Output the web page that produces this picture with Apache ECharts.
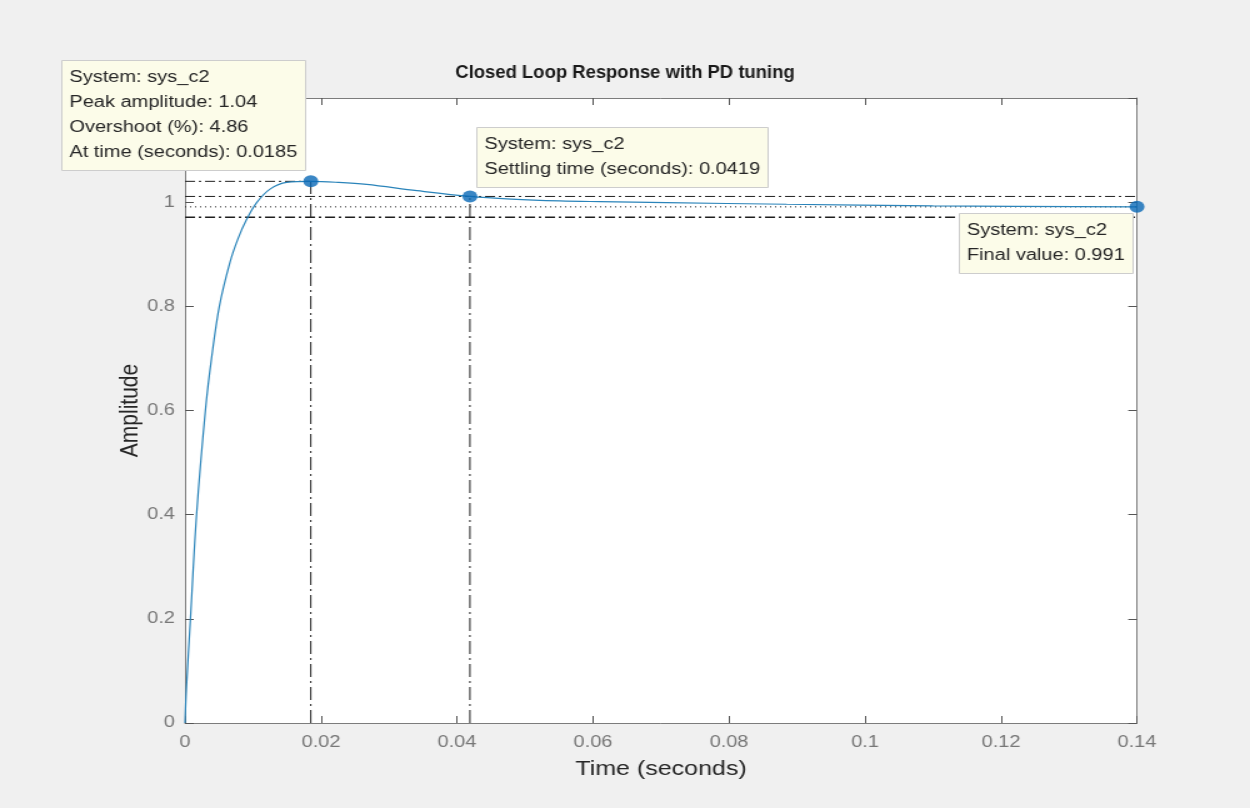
<!DOCTYPE html>
<html>
<head>
<meta charset="utf-8">
<title>Closed Loop Response with PD tuning</title>
<script src="https://cdn.jsdelivr.net/npm/echarts@6/dist/echarts.min.js"></script>
<style>
  html, body { margin: 0; padding: 0; background: #f0f0f0; overflow: hidden; }
  /* the figure is laid out 1000px wide and stretched to fill the 1250px window */
  #chart { width: 1000px; height: 808px; transform: scaleX(1.25); transform-origin: 0 0; }
</style>
</head>
<body>
<div id="chart"></div>
<script>
// Step response samples of sys_c2 (time in seconds, amplitude)
const timeS = [0, 0.0002, 0.0008, 0.0017, 0.0030, 0.0039, 0.00505, 0.0066, 0.0078,
  0.00907, 0.01054, 0.0125, 0.01495, 0.0185, 0.0225, 0.0267, 0.0341, 0.0419,
  0.048, 0.0551, 0.061, 0.0708, 0.0885, 0.11, 0.14];
const amplitude = [0, 0.065, 0.20, 0.40, 0.60, 0.70, 0.80, 0.884, 0.93,
  0.967, 0.999, 1.025, 1.038, 1.04, 1.038, 1.034, 1.022, 1.011,
  1.006, 1.0025, 1.001, 0.999, 0.996, 0.993, 0.991];

// Step-response characteristics
const systemName = 'sys_c2';
const peakTime = 0.0185;
const peakAmplitude = 1.04;
const overshootPct = 4.86;
const settlingTime = 0.0419;
const settlingAmplitude = 1.011;
const finalTime = 0.14;
const finalValue = 0.991;
const bandUpper = 1.011;
const bandLower = 0.971;

// Axis ticks
const xTickLabels = ['0', '0.02', '0.04', '0.06', '0.08', '0.1', '0.12', '0.14'];
const yTickLabels = ['0', '0.2', '0.4', '0.6', '0.8', '1', '1.2'];
const xStep = 0.02, yStep = 0.2;

const FONT = '"Liberation Sans", Arial, Helvetica, sans-serif';
const AXIS_GRAY = '#7c7c7c';
const LABEL_GRAY = '#777777';
const DASH_DOT_H = [8, 3, 2, 3];
const DASH_DOT_V = [13, 4, 2, 4];

const pair = (xs, ys) => xs.map((x, i) => [x, ys[i]]);

function guide(data, type, width) {
  return {
    type: 'line', data, xAxisIndex: 0, yAxisIndex: 0, silent: true,
    showSymbol: false, symbol: 'none', z: 2,
    lineStyle: { color: '#1e1e1e', width: width || 1, type }
  };
}

function boxAxis(pos, isX) {
  return {
    type: 'value', position: pos,
    min: 0, max: isX ? 0.14 : 1.2, interval: isX ? xStep : yStep,
    axisLine: { show: true, onZero: false, lineStyle: { color: AXIS_GRAY, width: 1 } },
    axisTick: { show: true, inside: true, length: 7, lineStyle: { color: '#555555', width: 1 } },
    splitLine: { show: false },
    axisLabel: { show: false }
  };
}

const chart = echarts.init(document.getElementById('chart'), null, { renderer: 'canvas' });

const xMain = boxAxis('bottom', true);
xMain.axisLabel = {
  show: true, color: LABEL_GRAY, fontFamily: FONT, fontSize: 16, margin: 12,
  formatter: v => xTickLabels[Math.round(v / xStep)]
};
xMain.name = 'Time (seconds)';
xMain.nameLocation = 'middle';
xMain.nameGap = 36;
xMain.nameMoveOverlap = false;
xMain.nameTextStyle = { color: '#262626', fontFamily: FONT, fontSize: 20 };

const yMain = boxAxis('left', false);
yMain.axisLabel = {
  show: true, color: LABEL_GRAY, fontFamily: FONT, fontSize: 16, margin: 8,
  formatter: v => yTickLabels[Math.round(v / yStep)]
};
yMain.name = 'Amplitude';
yMain.nameLocation = 'middle';
yMain.nameGap = 33;
yMain.nameMoveOverlap = false;
yMain.nameTextStyle = { color: '#262626', fontFamily: FONT, fontSize: 21 };

chart.setOption({
  backgroundColor: '#f0f0f0',
  animation: false,
  grid: { left: 148, right: 90.4, top: 98, bottom: 85, show: true, backgroundColor: '#ffffff', borderWidth: 0 },
  xAxis: [xMain, boxAxis('top', true)],
  yAxis: [yMain, boxAxis('right', false)],
  series: [
    guide([[0, peakAmplitude], [peakTime, peakAmplitude]], DASH_DOT_H),
    guide([[peakTime, 0], [peakTime, peakAmplitude]], DASH_DOT_V),
    guide([[settlingTime, 0], [settlingTime, settlingAmplitude]], DASH_DOT_V),
    guide([[0, bandUpper], [finalTime, bandUpper]], DASH_DOT_H),
    guide([[0, bandLower], [finalTime, bandLower]], DASH_DOT_H, 1.5),
    guide([[0, finalValue], [finalTime, finalValue]], [1, 3]),
    {
      name: systemName, type: 'line', data: pair(timeS, amplitude),
      showSymbol: false, symbol: 'none', z: 3, smooth: 0.35,
      lineStyle: { color: '#2a84ba', width: 1.2 }
    },
    {
      type: 'scatter', z: 5, symbol: 'circle', symbolSize: 12, silent: true,
      itemStyle: { color: '#0a69b6' },
      data: [[peakTime, peakAmplitude], [settlingTime, settlingAmplitude], [finalTime, finalValue]]
    }
  ]
});

// Title and data tips, placed relative to the marked points
const pk = chart.convertToPixel({ gridIndex: 0 }, [peakTime, peakAmplitude]);
const st = chart.convertToPixel({ gridIndex: 0 }, [settlingTime, settlingAmplitude]);
const fv = chart.convertToPixel({ gridIndex: 0 }, [finalTime, finalValue]);

const TIP_FONT = '16px ' + FONT;
const measureCtx = document.createElement('canvas').getContext('2d');
measureCtx.font = TIP_FONT;

// A data tip: light yellow box with left-aligned lines, anchored at one corner
function tip(lines, ax, ay, hAlign, vAlign) {
  const padX = 6, padY = 5, lh = 25;
  const textW = Math.max(...lines.map(s => measureCtx.measureText(s).width));
  const w = Math.ceil(textW) + 2 * padX;
  const h = lines.length * lh + 2 * padY;
  const x0 = Math.round(hAlign === 'right' ? ax - w : ax) + 0.5;
  const y0 = Math.round(vAlign === 'bottom' ? ay - h : ay) + 0.5;
  return [
    {
      type: 'rect', z: 100, silent: true,
      shape: { x: x0, y: y0, width: w, height: h },
      style: { fill: '#fcfce9', stroke: '#cdcdcd', lineWidth: 1 }
    },
    {
      type: 'text', z: 101, silent: true, x: x0 + padX, y: y0 + padY,
      style: {
        text: lines.join('\n'), font: TIP_FONT, fill: '#262626',
        lineHeight: lh, align: 'left', verticalAlign: 'top'
      }
    }
  ];
}

chart.setOption({
  graphic: [
    {
      type: 'text', x: 500, y: 73, z: 100, scaleX: 0.82, silent: true,
      style: {
        text: 'Closed Loop Response with PD tuning',
        font: 'bold 18px ' + FONT, fill: '#1a1a1a',
        align: 'center', verticalAlign: 'middle'
      }
    },
    ...tip(['System: ' + systemName,
            'Peak amplitude: ' + peakAmplitude,
            'Overshoot (%): ' + overshootPct,
            'At time (seconds): ' + peakTime], pk[0] - 5, pk[1] - 11, 'right', 'bottom'),
    ...tip(['System: ' + systemName,
            'Settling time (seconds): ' + settlingTime], st[0] + 5, st[1] - 9, 'left', 'bottom'),
    ...tip(['System: ' + systemName,
            'Final value: ' + finalValue], fv[0] - 4, fv[1] + 6, 'right', 'top')
  ]
});
</script>
</body>
</html>
